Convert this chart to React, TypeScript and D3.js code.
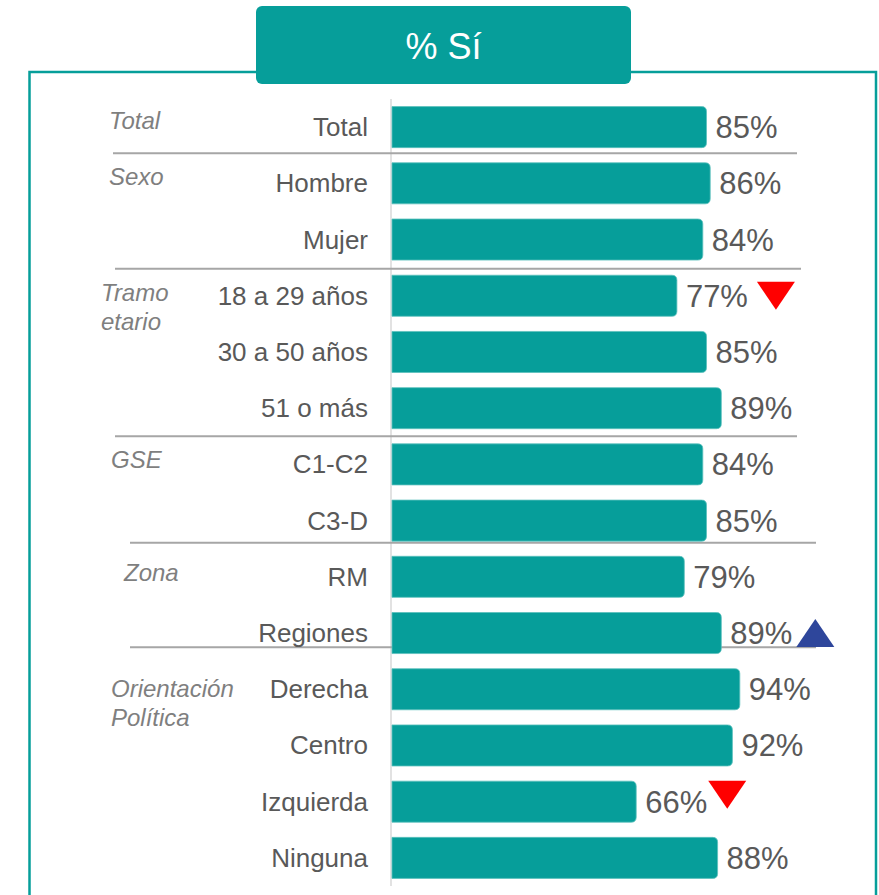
import React from "react";
import * as d3 from "d3";

const categories = [
  "Total", "Hombre", "Mujer", "18 a 29 años", "30 a 50 años", "51 o más",
  "C1-C2", "C3-D", "RM", "Regiones", "Derecha", "Centro", "Izquierda", "Ninguna",
];
const values = [85, 86, 84, 77, 85, 89, 84, 85, 79, 89, 94, 92, 66, 88];
const groupLabels = [["Total"], ["Sexo"], ["Tramo", "etario"], ["GSE"], ["Zona"], ["Orientación", "Política"]];
const groupStarts = [0, 1, 3, 6, 8, 10];
const markerRows = ["18 a 29 años", "Regiones", "Izquierda"];
const markerDirs = ["down", "up", "down"];
const title = "% Sí";

// layout (styling only)
const W = 879, H = 895;
const TEAL = "#069e9a";
const FONT = "'Liberation Sans', Arial, sans-serif";
const groupX = [109, 109, 101, 111, 124, 111];
const groupDy = [2, 1.5, 5, 4, 4, 8];
const sepDy = [-2, 1, 0, -6, -14];
const sepX = [[113, 797], [115, 801], [115, 797], [130, 816], [130, 816]];
const markerGap = [9, 4, 1];
const markerDy = [0, 0, -7];

export default function App() {
  const x = d3.scaleLinear().domain([0, 100]).range([392, 762]);
  const y = d3.scaleBand<string>().domain(categories).range([99, 886]).paddingInner(0.27).paddingOuter(0.135);
  const bh = y.bandwidth();
  const center = (c: string) => (y(c) as number) + bh / 2;
  const r = 5;
  const barPath = (v: number, c: string) => {
    const x0 = x(0), x1 = x(v), y0 = y(c) as number, y1 = y0 + bh;
    const p = d3.path();
    p.moveTo(x0, y0);
    p.lineTo(x1 - r, y0);
    p.quadraticCurveTo(x1, y0, x1, y0 + r);
    p.lineTo(x1, y1 - r);
    p.quadraticCurveTo(x1, y1, x1 - r, y1);
    p.lineTo(x0, y1);
    p.closePath();
    return p.toString();
  };
  const valFs = 31;
  const labelW = (s: string) => {
    let w = 0;
    for (const ch of s) w += ch === "%" ? 0.889 : 0.556;
    return w * valFs;
  };
  const triW = 38, triH = 28;

  return (
    <svg width={W} height={H} style={{ position: "absolute", left: 0, top: 0, display: "block", background: "#fff" }} fontFamily={FONT}>
      {/* outer frame */}
      <rect x={29.5} y={72} width={846.5} height={H} fill="none" stroke={TEAL} strokeWidth={2.5} />
      {/* header */}
      <rect x={256} y={6} width={375} height={78} rx={6} fill={TEAL} />
      <text x={443.5} y={59} textAnchor="middle" fill="#fff" fontSize={36}>{title}</text>

      {/* axis */}
      <line x1={391} x2={391} y1={99} y2={886} stroke="#d9d9d9" strokeWidth={1.5} />

      {/* separators */}
      {groupStarts.slice(1).map((s, i) => {
        const prev = center(categories[s - 1]);
        const cur = center(categories[s]);
        const yy = (prev + cur) / 2 + sepDy[i];
        return <line key={"s" + i} x1={sepX[i][0]} x2={sepX[i][1]} y1={yy} y2={yy} stroke="#a6a6a6" strokeWidth={2} />;
      })}

      {/* bars */}
      {categories.map((c, i) => (
        <g key={c}>
          <path d={barPath(values[i], c)} fill={TEAL} stroke="#5cc0bd" strokeWidth={0.8} />
          <text x={368} y={center(c) + 9} textAnchor="end" fontSize={26} fill="#595959">{c}</text>
          <text x={x(values[i]) + 9} y={center(c) + 11} fontSize={valFs} fill="#595959">{values[i] + "%"}</text>
        </g>
      ))}

      {/* group labels */}
      {groupLabels.map((lines, gi) => (
        <text key={"g" + gi} fontSize={24} fontStyle="italic" fill="#7f7f7f">
          {lines.map((l, li) => (
            <tspan key={li} x={groupX[gi]} y={center(categories[groupStarts[gi]]) + groupDy[gi] + li * 29}>{l}</tspan>
          ))}
        </text>
      ))}

      {/* significance markers */}
      {markerRows.map((c, mi) => {
        const idx = categories.indexOf(c);
        const v = values[idx];
        const left = x(v) + 9 + labelW(v + "%") + markerGap[mi];
        const cy = center(c) + markerDy[mi];
        const top = cy - triH / 2, bot = cy + triH / 2;
        const pts = markerDirs[mi] === "down"
          ? `${left},${top} ${left + triW},${top} ${left + triW / 2},${bot}`
          : `${left},${bot} ${left + triW},${bot} ${left + triW / 2},${top}`;
        return <polygon key={"m" + mi} points={pts} fill={markerDirs[mi] === "down" ? "#ff0000" : "#2e469b"} />;
      })}
    </svg>
  );
}
